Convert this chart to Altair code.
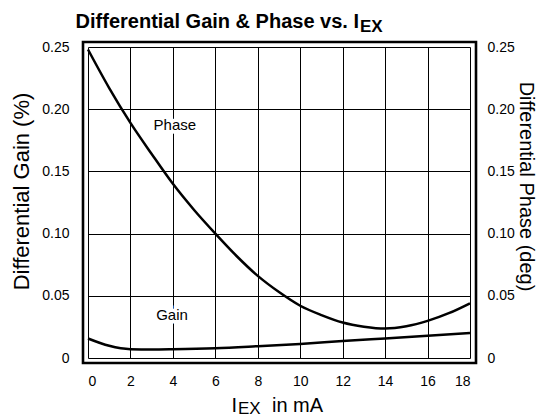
import altair as alt
import pandas as pd

# ---- data ----
iex = [0, 1, 2, 3, 4, 5, 6, 7, 8, 9, 10, 11, 12, 13, 14, 15, 16, 17, 18]
phase = [0.248, 0.217, 0.189, 0.164, 0.140, 0.119, 0.100, 0.082, 0.066, 0.053,
         0.042, 0.0345, 0.0285, 0.0252, 0.0237, 0.0255, 0.0298, 0.036, 0.044]
gain_x = [0, 1, 2, 3, 4, 6, 8, 10, 12, 14, 16, 18]
gain = [0.0157, 0.0098, 0.0071, 0.0069, 0.0071, 0.0079, 0.0095, 0.0113,
        0.0136, 0.0157, 0.0178, 0.0200]
label_x = [4.09, 3.96]
label_y = [0.187, 0.0346]
label_text = ["Phase", "Gain"]
x_ticks = [0, 2, 4, 6, 8, 10, 12, 14, 16, 18]
y_ticks = [0, 0.05, 0.10, 0.15, 0.20, 0.25]

W, H = 382, 311
FONT = "Liberation Sans"

phase_df = pd.DataFrame({"iex": iex, "val": phase})
gain_df = pd.DataFrame({"iex": gain_x, "val": gain})
label_df = pd.DataFrame({"iex": label_x, "val": label_y, "text": label_text})
one = pd.DataFrame({"k": [0]})

xscale = alt.Scale(domain=[0, 18], nice=False, zero=False)
yscale = alt.Scale(domain=[0, 0.25], nice=False)
label_expr = "datum.value == 0 ? '0' : format(datum.value, '.2f')"

xaxis = alt.Axis(values=x_ticks, grid=True, gridColor="black", gridWidth=1,
                 domain=False, ticks=False, labelFont=FONT, labelFontSize=14,
                 labelColor="black", labelPadding=16, title="")
left_axis = alt.Axis(values=y_ticks, grid=True, gridColor="black", gridWidth=1,
                     domain=False, ticks=False, labelExpr=label_expr,
                     labelFont=FONT, labelFontSize=14, labelColor="black",
                     labelPadding=19, title="Differential Gain (%)",
                     titleFont=FONT, titleFontSize=22, titleFontWeight="normal",
                     titleColor="black", titleAngle=270, titleX=-67, titleY=144,
                     titleAlign="center", titleBaseline="middle")
right_axis = alt.Axis(orient="right", values=y_ticks, grid=False, domain=False,
                      ticks=False, labelExpr=label_expr, labelFont=FONT,
                      labelFontSize=14, labelColor="black", labelPadding=17,
                      title="Differential Phase (deg)", titleFont=FONT,
                      titleFontSize=20, titleFontWeight="normal",
                      titleColor="black", titleAngle=90, titleX=55, titleY=139,
                      titleAlign="center", titleBaseline="middle")

gain_line = alt.Chart(gain_df).mark_line(
    color="black", strokeWidth=2.5, interpolate="monotone"
).encode(
    x=alt.X("iex:Q", scale=xscale, axis=xaxis),
    y=alt.Y("val:Q", scale=yscale, axis=left_axis),
)

phase_line = alt.Chart(phase_df).mark_line(
    color="black", strokeWidth=2.5, interpolate="monotone"
).encode(
    x=alt.X("iex:Q", scale=xscale, axis=xaxis),
    y=alt.Y("val:Q", scale=yscale, axis=right_axis),
)

label_halo = alt.Chart(label_df).mark_text(
    font=FONT, fontSize=15, color="white", stroke="white", strokeWidth=7
).encode(
    x=alt.X("iex:Q", scale=xscale, axis=xaxis),
    y=alt.Y("val:Q", scale=yscale, axis=None),
    text="text:N",
)
labels = alt.Chart(label_df).mark_text(
    font=FONT, fontSize=15, color="black"
).encode(
    x=alt.X("iex:Q", scale=xscale, axis=xaxis),
    y=alt.Y("val:Q", scale=yscale, axis=None),
    text="text:N",
)

frame = alt.Chart(one).mark_rect(
    fillOpacity=0, stroke="black", strokeWidth=2.6
).encode(
    x=alt.value(-5), x2=alt.value(W + 6), y=alt.value(-5), y2=alt.value(H + 5)
)

title_main = alt.Chart(one).mark_text(
    text="Differential Gain & Phase vs. I", font=FONT, fontSize=20,
    fontWeight="bold", align="right", baseline="alphabetic", color="black"
).encode(x=alt.value(271), y=alt.value(-19))
title_sub = alt.Chart(one).mark_text(
    text="EX", font=FONT, fontSize=17, fontWeight="bold", align="left",
    baseline="alphabetic", color="black"
).encode(x=alt.value(272), y=alt.value(-15))

xt_i = alt.Chart(one).mark_text(
    text="I", font=FONT, fontSize=20, align="right", baseline="alphabetic",
    color="black"
).encode(x=alt.value(149), y=alt.value(365))
xt_sub = alt.Chart(one).mark_text(
    text="EX", font=FONT, fontSize=17, align="left", baseline="alphabetic",
    color="black"
).encode(x=alt.value(150), y=alt.value(367))
xt_rest = alt.Chart(one).mark_text(
    text="in mA", font=FONT, fontSize=20, align="left", baseline="alphabetic",
    color="black"
).encode(x=alt.value(184), y=alt.value(365))

chart = alt.layer(
    gain_line, phase_line, label_halo, labels, frame,
    title_main, title_sub, xt_i, xt_sub, xt_rest
).resolve_scale(y="independent").properties(
    width=W, height=H,
    autosize=alt.AutoSizeParams(type="none"),
    padding={"left": 80, "top": 39, "right": 67, "bottom": 61},
    background="white",
).configure_view(stroke=None)

chart.save("out.html", embed_options={"renderer": "svg", "actions": False})
